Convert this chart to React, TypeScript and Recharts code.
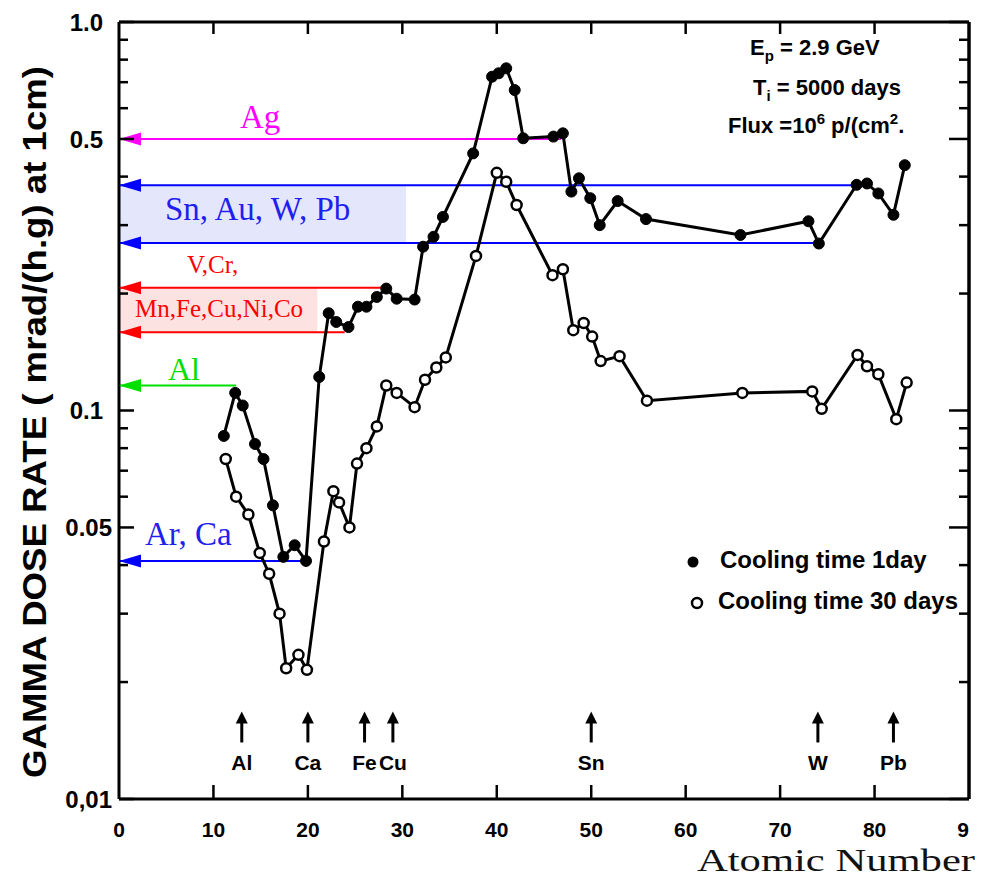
import React from "react";
import {
  ComposedChart,
  Line,
  XAxis,
  YAxis,
  ReferenceLine,
  ReferenceDot,
  ReferenceArea,
} from "recharts";

// cooling time 1 day (filled dots)
const Z_1DAY = [
  11.1, 12.3, 13.1, 14.4, 15.3, 16.3, 17.4, 18.6, 19.8, 21.2, 22.2, 23.0, 24.3, 25.3, 26.2,
  27.3, 28.3, 29.4, 31.3, 32.2, 33.3, 34.3, 37.5, 39.5, 40.2, 41.0, 41.9, 42.8, 46.0, 47.0,
  47.9, 48.7, 49.9, 50.9, 52.8, 55.8, 65.8, 73.0, 74.1, 78.1, 79.2, 80.4, 82.0, 83.2,
];
const DOSE_1DAY = [
  0.086, 0.111, 0.103, 0.082, 0.075, 0.057, 0.042, 0.045, 0.041, 0.122, 0.178, 0.169, 0.164,
  0.185, 0.185, 0.196, 0.206, 0.194, 0.193, 0.264, 0.28, 0.315, 0.459, 0.723, 0.738, 0.76,
  0.668, 0.502, 0.507, 0.517, 0.366, 0.396, 0.352, 0.3, 0.346, 0.311, 0.283, 0.307, 0.269,
  0.381, 0.384, 0.362, 0.319, 0.428,
];

// cooling time 30 days (open dots)
const Z_30DAYS = [
  11.3, 12.4, 13.7, 14.9, 15.9, 17.0, 17.7, 19.0, 19.9, 21.7, 22.7, 23.3, 24.4, 25.2, 26.2,
  27.3, 28.3, 29.4, 31.3, 32.4, 33.6, 34.6, 37.8, 40.0, 41.0, 42.1, 45.9, 47.0, 48.1, 49.2,
  50.1, 51.0, 53.0, 55.9, 66.0, 73.4, 74.4, 78.2, 79.2, 80.4, 82.3, 83.4,
];
const DOSE_30DAYS = [
  0.075, 0.06, 0.054, 0.043, 0.038, 0.03, 0.0217, 0.0235, 0.0215, 0.046, 0.062, 0.058, 0.05,
  0.073, 0.08, 0.091, 0.116, 0.111, 0.102, 0.12, 0.129, 0.137, 0.25, 0.409, 0.388, 0.338,
  0.223, 0.231, 0.161, 0.168, 0.155, 0.134, 0.138, 0.106, 0.111, 0.112, 0.101, 0.139, 0.13,
  0.124, 0.095, 0.118,
];

const X_TICKS = [0, 10, 20, 30, 40, 50, 60, 70, 80, 90];
const Y_TICKS = [
  0.01, 0.02, 0.03, 0.04, 0.05, 0.06, 0.07, 0.08, 0.09, 0.1, 0.2, 0.3, 0.4, 0.5, 0.6, 0.7,
  0.8, 0.9, 1,
];
const Y_LABELS: Record<string, string> = {
  "1": "1.0",
  "0.5": "0.5",
  "0.1": "0.1",
  "0.05": "0.05",
  "0.01": "0,01",
};

// element markers above the x axis
const ELEMENTS = ["Al", "Ca", "Fe", "Cu", "Sn", "W", "Pb"];
const ELEMENT_Z = [13, 20, 26, 29, 50, 74, 82];

// coloured levels pointing to the y axis
const LEVEL_DOSE = [0.5, 0.38, 0.27, 0.207, 0.159, 0.116, 0.041];
const LEVEL_END_Z = [46.8, 77.8, 73.5, 28.4, 23.9, 12.4, 19.9];
const LEVEL_COLORS = ["#ff00ff", "#0000ff", "#0000ff", "#ff0000", "#ff0000", "#00e000", "#0000ff"];

const SANS = "'Liberation Sans', Arial, sans-serif";
const SERIF = "'Liberation Serif', 'Times New Roman', serif";
const ARROW_DOSE = 0.0168;

const series1 = Z_1DAY.map((z, i) => ({ z, dose: DOSE_1DAY[i] }));
const series30 = Z_30DAYS.map((z, i) => ({ z, dose: DOSE_30DAYS[i] }));

const LeftTick = (props: any) => {
  const { x, y, payload } = props;
  const v = payload.value;
  const label = Y_LABELS[String(v)];
  const major = label !== undefined;
  const dx = v === 0.05 || v === 0.01 ? 7 : 16;
  return (
    <g>
      <line x1={x} x2={x + (major ? 15 : 9)} y1={y} y2={y} stroke="#000" strokeWidth={2.5} />
      {major && (
        <text x={x - dx} y={y} dy="0.36em" textAnchor="end" fontSize={24} fontWeight="bold" fontFamily={SANS} fill="#000">
          {label}
        </text>
      )}
    </g>
  );
};

const RightTick = (props: any) => {
  const { x, y, payload } = props;
  const major = Y_LABELS[String(payload.value)] !== undefined;
  return <line x1={x} x2={x - (major ? 20 : 10)} y1={y} y2={y} stroke="#000" strokeWidth={2.5} />;
};

const BottomTick = (props: any) => {
  const { x, y, payload } = props;
  const v = payload.value;
  return (
    <g>
      {v > 0 && v < 90 && <line x1={x} x2={x} y1={y} y2={y - 14} stroke="#000" strokeWidth={2.5} />}
      <text x={v === 90 ? x - 6 : x} y={y + 38} textAnchor="middle" fontSize={21} fontWeight="bold" fontFamily={SANS} fill="#000">
        {v === 90 ? "9" : v}
      </text>
    </g>
  );
};

const TopTick = (props: any) => {
  const { x, y, payload } = props;
  const v = payload.value;
  if (v <= 0 || v >= 90) return <g />;
  return <line x1={x} x2={x} y1={y} y2={y + 12} stroke="#000" strokeWidth={2.5} />;
};

const ElementArrow = ({ cx, cy, label }: { cx: number; cy: number; label: string }) => (
  <g>
    <polygon points={`${cx},${cy} ${cx - 6},${cy + 12} ${cx + 6},${cy + 12}`} fill="#000" />
    <line x1={cx} x2={cx} y1={cy + 10} y2={cy + 31} stroke="#000" strokeWidth={3} />
    <text x={cx} y={cy + 59} textAnchor="middle" fontSize={21} fontWeight="bold" fontFamily={SANS} fill="#000">
      {label}
    </text>
  </g>
);

const LevelHead = ({ cx, cy, color }: { cx: number; cy: number; color: string }) => (
  <polygon points={`${cx},${cy} ${cx + 22},${cy - 6.5} ${cx + 22},${cy + 6.5}`} fill={color} />
);

export default function App() {
  return (
    <div style={{ position: "relative", width: 975, height: 870 }}>
      <ComposedChart width={975} height={870} margin={{ top: 13, right: 13, bottom: 0, left: 0 }}>
        <XAxis
          dataKey="z"
          type="number"
          domain={[0, 90]}
          ticks={X_TICKS}
          interval={0}
          height={79}
          tickSize={0}
          tickMargin={0}
          tickLine={false}
          axisLine={{ stroke: "#000", strokeWidth: 3 }}
          tick={<BottomTick />}
          allowDataOverflow
        />
        <XAxis
          xAxisId="top"
          orientation="top"
          dataKey="z"
          type="number"
          domain={[0, 90]}
          ticks={X_TICKS}
          interval={0}
          height={1}
          tickSize={0}
          tickMargin={0}
          tickLine={false}
          axisLine={{ stroke: "#000", strokeWidth: 3 }}
          tick={<TopTick />}
          allowDataOverflow
        />
        <YAxis
          type="number"
          scale="log"
          domain={[0.01, 1]}
          ticks={Y_TICKS}
          interval={0}
          width={111}
          tickSize={0}
          tickMargin={0}
          tickLine={false}
          axisLine={{ stroke: "#000", strokeWidth: 3 }}
          tick={<LeftTick />}
          allowDataOverflow
        />
        <YAxis
          yAxisId="r"
          orientation="right"
          type="number"
          scale="log"
          domain={[0.01, 1]}
          ticks={Y_TICKS}
          interval={0}
          width={1}
          tickSize={0}
          tickMargin={0}
          tickLine={false}
          axisLine={{ stroke: "#000", strokeWidth: 3.5 }}
          tick={<RightTick />}
          allowDataOverflow
        />

        <ReferenceArea x1={0} x2={30.4} y1={0.27} y2={0.38} fill="#e4e6fb" fillOpacity={1} stroke="none" />
        <ReferenceArea x1={0} x2={21.0} y1={0.159} y2={0.207} fill="#fde2e2" fillOpacity={1} stroke="none" />

        {LEVEL_DOSE.map((d, i) => (
          <ReferenceLine
            key={`lvl-${i}`}
            segment={[
              { x: 0, y: d },
              { x: LEVEL_END_Z[i], y: d },
            ]}
            stroke={LEVEL_COLORS[i]}
            strokeWidth={2}
          />
        ))}
        {LEVEL_DOSE.map((d, i) => (
          <ReferenceDot
            key={`head-${i}`}
            x={0}
            y={d}
            r={0}
            shape={(p: any) => <LevelHead cx={p.cx} cy={p.cy} color={LEVEL_COLORS[i]} />}
          />
        ))}

        {ELEMENT_Z.map((z, i) => (
          <ReferenceDot
            key={`el-${i}`}
            x={z}
            y={ARROW_DOSE}
            r={0}
            shape={(p: any) => <ElementArrow cx={p.cx} cy={p.cy} label={ELEMENTS[i]} />}
          />
        ))}

        <Line
          data={series30}
          dataKey="dose"
          stroke="#000"
          strokeWidth={3}
          dot={{ r: 5, fill: "#fff", stroke: "#000", strokeWidth: 2.5 }}
          isAnimationActive={false}
        />
        <Line
          data={series1}
          dataKey="dose"
          stroke="#000"
          strokeWidth={3}
          dot={{ r: 5.5, fill: "#000", stroke: "#000", strokeWidth: 1 }}
          isAnimationActive={false}
        />
      </ComposedChart>

      <svg width={975} height={870} style={{ position: "absolute", left: 0, top: 0, pointerEvents: "none" }}>
        <text
          x={38}
          y={414}
          transform="rotate(-90, 38, 414)"
          textAnchor="middle"
          fontSize={33}
          fontWeight="bold"
          fontFamily={SANS}
          textLength={712}
          lengthAdjust="spacingAndGlyphs"
          fill="#000"
        >
          GAMMA DOSE RATE ( mrad/(h.g) at 1cm)
        </text>

        <text x={232} y={120} fontSize={33} fontFamily={SERIF} fill="#ff00ff">Ag</text>
        <text x={157} y={212} fontSize={33} fontFamily={SERIF} fill="#1f1fef">Sn, Au, W, Pb</text>
        <text x={179} y={265} fontSize={25} fontFamily={SERIF} fill="#ff0000">V,Cr,</text>
        <text x={127} y={309} fontSize={25} fontFamily={SERIF} fill="#ff0000">Mn,Fe,Cu,Ni,Co</text>
        <text x={160} y={372} fontSize={32} fontFamily={SERIF} fill="#00e000">Al</text>
        <text x={137} y={537} fontSize={33} fontFamily={SERIF} fill="#1f1fef">Ar, Ca</text>

        <g fontFamily={SANS} fontWeight="bold" fontSize={22} fill="#000">
          <text x={742} y={47}>
            E<tspan fontSize={15} dy={6}>p</tspan>
            <tspan dy={-6}> = 2.9 GeV</tspan>
          </text>
          <text x={745} y={87}>
            T<tspan fontSize={15} dy={6}>i</tspan>
            <tspan dy={-6}>{"  "}= 5000 days</tspan>
          </text>
          <text x={720} y={125}>
            Flux =10<tspan fontSize={15} dy={-9}>6</tspan>
            <tspan dy={9}> p/(cm</tspan>
            <tspan fontSize={15} dy={-9}>2</tspan>
            <tspan dy={9}>.</tspan>
          </text>
        </g>

        <circle cx={685} cy={554} r={5.5} fill="#000" />
        <text x={712} y={560} fontSize={24} fontWeight="bold" fontFamily={SANS} fill="#000">Cooling time 1day</text>
        <circle cx={689} cy={595} r={5} fill="#fff" stroke="#000" strokeWidth={2.5} />
        <text x={710} y={601} fontSize={24} fontWeight="bold" fontFamily={SANS} fill="#000">Cooling time 30 days</text>

        <text x={689} y={863} fontSize={32} fontFamily={SERIF} fill="#111" textLength={278} lengthAdjust="spacingAndGlyphs">
          Atomic Number
        </text>
      </svg>
    </div>
  );
}
